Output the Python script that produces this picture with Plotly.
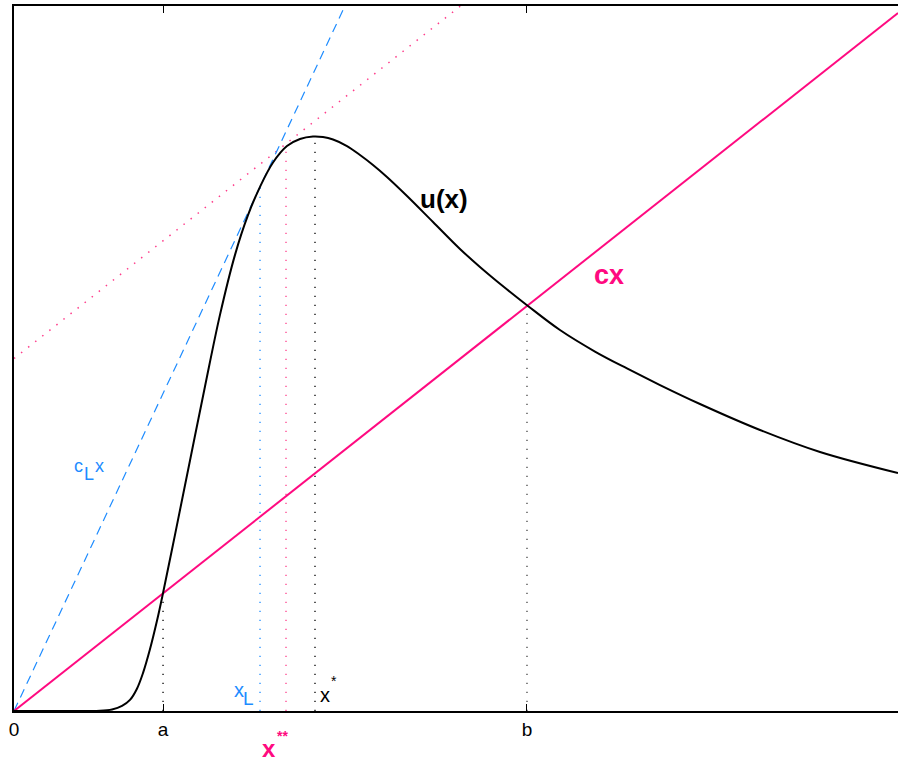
import plotly.graph_objects as go

# Sampled profile of u(x)
u_x = [0.0, 0.520, 0.803, 0.973, 1.109, 1.222, 1.312, 1.391, 1.459, 1.538,
       1.618, 1.686, 1.821, 1.991, 2.161, 2.330, 2.500, 2.647, 2.783, 2.930,
       3.088, 3.235, 3.382, 3.495, 3.609, 3.767, 3.914, 4.061, 4.219, 4.446,
       4.740, 5.045, 5.271, 5.543, 5.814, 6.176, 6.572, 6.934, 7.308, 7.760,
       8.439, 9.118, 10.0]
u_y = [0.0, 0.0, 0.0, 0.002, 0.018, 0.058, 0.126, 0.253, 0.430, 0.700,
       1.026, 1.339, 1.999, 2.843, 3.685, 4.495, 5.176, 5.626, 5.948, 6.224,
       6.411, 6.491, 6.519, 6.513, 6.485, 6.411, 6.309, 6.196, 6.060, 5.844,
       5.549, 5.243, 5.039, 4.811, 4.596, 4.323, 4.079, 3.887, 3.699, 3.484,
       3.189, 2.939, 2.700]

# Slopes and intercept of the straight lines
c = 0.792          # cx
c_L = 2.137        # c_L x
tangent_b0 = 4.0   # tangent line parallel to cx

# Marked abscissae and the heights their guide lines reach
a, x_L, x_ss, x_s, b = 1.686, 2.783, 3.077, 3.405, 5.803
guide_x = [a, x_L, x_ss, x_s, b]
guide_top = [1.335, 5.946, 6.423, 6.519, 4.596]
guide_col = ["#000000", "#1e8cff", "#ff3d8b", "#000000", "#444444"]

X_MAX, Y_MAX = 10.0, 8.0
MAG = "#ff0a80"
BLUE = "#1e8cff"
FONT = "Liberation Sans, Arial, Helvetica, sans-serif"

fig = go.Figure()

# vertical dotted guides
for gx, gt, gc in zip(guide_x, guide_top, guide_col):
    fig.add_trace(go.Scatter(x=[gx, gx], y=[0, gt], mode="lines",
                             line=dict(color=gc, width=1.3, dash="1.3px,7.7px"),
                             hoverinfo="skip"))

# tangent through x** (parallel to cx)
fig.add_trace(go.Scatter(x=[0, (Y_MAX - tangent_b0) / c],
                         y=[tangent_b0, Y_MAX], mode="lines",
                         line=dict(color="#ff3d8b", width=1.5, dash="1.5px,7.5px"),
                         hoverinfo="skip"))

# c_L x
fig.add_trace(go.Scatter(x=[0, Y_MAX / c_L], y=[0, Y_MAX], mode="lines",
                         line=dict(color=BLUE, width=1.2, dash="9px,6px"),
                         hoverinfo="skip"))

# cx
fig.add_trace(go.Scatter(x=[0, X_MAX], y=[0, c * X_MAX], mode="lines",
                         line=dict(color=MAG, width=2), hoverinfo="skip"))

# u(x)
fig.add_trace(go.Scatter(x=u_x, y=u_y, mode="lines",
                         line=dict(color="black", width=2, shape="spline",
                                   smoothing=1.0),
                         hoverinfo="skip"))

def label(x, y, text, size, color="black", bold=False, yref="y"):
    fig.add_annotation(x=x, y=y, xref="x", yref=yref, showarrow=False,
                       text=f"<b>{text}</b>" if bold else text,
                       font=dict(family=FONT, size=size, color=color),
                       xanchor="center", yanchor="middle")

label(4.864, 5.810, "u(x)", 26, bold=True)
label(6.731, 4.948, "cx", 27, color=MAG, bold=True)
label(0.735, 2.780, "c", 18, color=BLUE)
label(0.848, 2.690, "L", 18, color=BLUE)
label(0.966, 2.780, "x", 18, color=BLUE)
label(2.545, 0.238, "x", 20, color=BLUE)
label(2.658, 0.140, "L", 19, color=BLUE)
label(3.518, 0.182, "x", 20)
label(3.620, 0.335, "*", 14)
label(2.885, -0.0525, "x", 24, color=MAG, bold=True, yref="paper")
label(3.032, -0.0355, "**", 14, color=MAG, bold=True, yref="paper")

fig.update_layout(
    width=898, height=762,
    margin=dict(l=14, r=0, t=6, b=51),
    paper_bgcolor="white", plot_bgcolor="white",
    showlegend=False,
    xaxis=dict(range=[0, X_MAX], showgrid=False, zeroline=False,
               showline=True, linecolor="black", linewidth=2, mirror="ticks",
               ticks="inside", ticklen=7, tickwidth=1, tickcolor="black",
               tickvals=[0, a, b], ticktext=["0", "a", "b"],
               tickfont=dict(family=FONT, size=19, color="black")),
    yaxis=dict(range=[0, Y_MAX], showgrid=False, zeroline=False,
               showline=True, linecolor="black", linewidth=2,
               showticklabels=False, ticks=""),
)

fig.write_html("out.html")
